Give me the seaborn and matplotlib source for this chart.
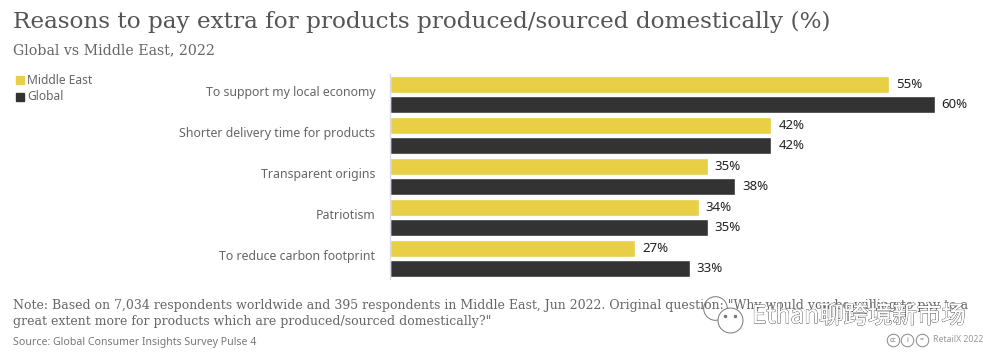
import matplotlib
matplotlib.use("Agg")
import matplotlib.pyplot as plt
import matplotlib.patheffects as pe
from matplotlib.patches import Rectangle
from matplotlib.transforms import ScaledTranslation
import pandas as pd
import seaborn as sns

reasons = ["To support my local economy", "Shorter delivery time for products",
           "Transparent origins", "Patriotism", "To reduce carbon footprint"]
middle_east = [55, 42, 35, 34, 27]
global_vals = [60, 42, 38, 35, 33]
series_names = ["Middle East", "Global"]
colors = ["#E8CF45", "#333333"]

df = pd.DataFrame({
    "reason": reasons * 2,
    "share": middle_east + global_vals,
    "series": [series_names[0]] * 5 + [series_names[1]] * 5,
})

sns.set_theme(style="white")
plt.rcParams['font.family'] = ['Noto Sans', 'DejaVu Sans']

W, H = 1000, 360
fig = plt.figure(figsize=(W / 100, H / 100), dpi=100)
ax = fig.add_axes([390 / W, 1 - 279 / H, 600 / W, 205 / H])

sns.barplot(data=df, y="reason", x="share", hue="series", order=reasons,
            hue_order=series_names, palette=colors, width=0.99, gap=0.16,
            saturation=1, legend=False, ax=ax)
ax.set_xlim(0, 66.08)
ax.set_ylim(4.5, -0.5)
ax.set_xlabel("")
ax.set_ylabel("")
ax.set_xticks([])
ax.tick_params(axis="y", length=0, pad=10.5, labelsize=8.9, labelcolor="#666666")
# sildid veidi üle rühma keskkoha
lift = ScaledTranslation(0, 3.5 / 100, fig.dpi_scale_trans)
for lab in ax.get_yticklabels():
    lab.set_transform(lab.get_transform() + lift)
for s in ["top", "right", "bottom"]:
    ax.spines[s].set_visible(False)
ax.spines["left"].set_color("#D8DCE6")
ax.spines["left"].set_linewidth(1)

for cont in ax.containers:
    ax.bar_label(cont, fmt="%d%%", padding=5, fontsize=9.5, color="#222222")


def txt(x, y, s, **kw):
    return fig.text(x / W, 1 - y / H, s, va="center", ha=kw.pop("ha", "left"), **kw)


serif = "DejaVu Serif"
txt(13, 22, "Reasons to pay extra for products produced/sourced domestically (%)",
    family=serif, fontsize=16.65, color="#555555")
txt(13, 50, "Global vs Middle East, 2022", family=serif, fontsize=10.15, color="#666666")

# legenda
for y, name, col in zip([80, 97], series_names, colors):
    fig.add_artist(Rectangle((16 / W, 1 - (y + 4) / H), 8 / W, 8 / H, color=col,
                             transform=fig.transFigure))
    txt(27, y, name, fontsize=8.7, color="#666666")

# märkused
txt(13, 305, "Note: Based on 7,034 respondents worldwide and 395 respondents in Middle East, "
    "Jun 2022. Original question: \"Why would you be willing to pay to a",
    family=serif, fontsize=9.02, color="#666666")
txt(13, 321, "great extent more for products which are produced/sourced domestically?\"",
    family=serif, fontsize=9.02, color="#666666")
txt(13, 342, "Source: Global Consumer Insights Survey Pulse 4", fontsize=7.6, color="#777777")
txt(933, 340, "RetailX 2022", fontsize=6.3, color="#999999")

# cc ikoonid
for cx, sym in zip([893, 907, 922], ["cc", "i", "="]):
    fig.add_artist(plt.Line2D([cx / W], [1 - 340 / H], marker="o", markersize=9, mfc="none",
                              mec="#888888", mew=0.7, transform=fig.transFigure))
    fig.text(cx / W, 1 - 340 / H, sym, ha="center", va="center", fontsize=5, color="#777777")

# vesimärk
for cx, cy, size in [(715, 308, 17), (730, 320, 18)]:
    fig.add_artist(plt.Line2D([cx / W], [1 - cy / H], marker="o", markersize=size, mfc="white",
                              mec="#777777", mew=0.7, transform=fig.transFigure))
for cx in [725, 735]:
    fig.add_artist(plt.Line2D([cx / W], [1 - 316 / H], marker="o", markersize=1.5, color="#777777",
                              transform=fig.transFigure))
wm = txt(752, 316, "Ethan聊跨境新市场", fontsize=17.6, color="white",
         family=["Noto Sans CJK SC", "DejaVu Sans"])
wm.set_path_effects([pe.withStroke(linewidth=0.8, foreground="#555555"), pe.Normal()])

fig.savefig("out.png", dpi=100)
